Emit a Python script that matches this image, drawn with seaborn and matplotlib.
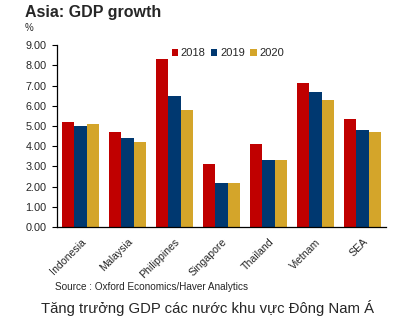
import matplotlib
matplotlib.use("Agg")
import matplotlib.pyplot as plt
import seaborn as sns
import pandas as pd
import numpy as np
from matplotlib.patches import Patch

countries = ["Indonesia", "Malaysia", "Philippines", "Singapore", "Thailand", "Vietnam", "SEA"]
years = ["2018", "2019", "2020"]
growth_2018 = [5.2, 4.7, 8.3, 3.1, 4.1, 7.1, 5.35]
growth_2019 = [5.0, 4.4, 6.5, 2.2, 3.3, 6.7, 4.8]
growth_2020 = [5.1, 4.2, 5.8, 2.2, 3.3, 6.3, 4.7]
yticks = [0, 1, 2, 3, 4, 5, 6, 7, 8, 9]
colors = ["#C00000", "#003870", "#D4A52A"]

df = pd.DataFrame({
    "country": countries * 3,
    "year": [y for y in years for _ in countries],
    "growth": growth_2018 + growth_2019 + growth_2020,
})

sns.set_style("white")
plt.rcParams["font.family"] = ["Liberation Sans", "DejaVu Sans"]

fig = plt.figure(figsize=(4.10, 3.22), dpi=100)
ax = fig.add_axes([0.139, 0.295, 0.802, 0.565])

sns.barplot(data=df, x="country", y="growth", hue="year", order=countries,
            hue_order=years, palette=colors, width=0.8, saturation=1,
            edgecolor="none", linewidth=0, ax=ax, legend=False)

ax.set_ylim(0, 9)
ax.set_xlim(-0.5, len(countries) - 0.5)
ax.set_yticks(yticks)
ax.set_yticklabels([f"{v:.2f}" for v in yticks], fontsize=7.8)
ax.set_xticks(range(len(countries)))
ax.set_xticklabels(countries, rotation=45, ha="right", rotation_mode="anchor", fontsize=7.6)
ax.set_xticks(np.arange(-0.5, len(countries), 1.0), minor=True)
ax.tick_params(axis="x", which="major", length=0, pad=7)
ax.tick_params(axis="x", which="minor", length=3, width=0.8, direction="out", color="black")
ax.tick_params(axis="y", length=3.5, width=0.8, direction="out", color="black", left=True, pad=4)
ax.set_xlabel("")
ax.set_ylabel("")

for side in ["top", "right"]:
    ax.spines[side].set_visible(False)
for side in ["left", "bottom"]:
    ax.spines[side].set_color("black")
    ax.spines[side].set_linewidth(0.9)

handles = [Patch(facecolor=c, edgecolor="none") for c in colors]
ax.legend(handles, years, loc="center", bbox_to_anchor=(0.52, 0.955), ncol=3,
          frameon=False, fontsize=8, handlelength=0.55, handleheight=0.55,
          handletextpad=0.25, columnspacing=0.5, borderaxespad=0)

fig.text(25 / 410, 1 - 13 / 322, "Asia: GDP growth", fontsize=11.5, fontweight="bold",
         ha="left", va="center")
fig.text(25 / 410, 1 - 28 / 322, "%", fontsize=7, ha="left", va="center")
fig.text(55 / 410, 1 - 287 / 322, "Source : Oxford Economics/Haver Analytics", fontsize=7.2,
         ha="left", va="center")
fig.text(208 / 410, 1 - 308 / 322, "Tăng trưởng GDP các nước khu vực Đông Nam Á", fontsize=10.7,
         ha="center", va="center")

fig.savefig("out.png", dpi=100)
